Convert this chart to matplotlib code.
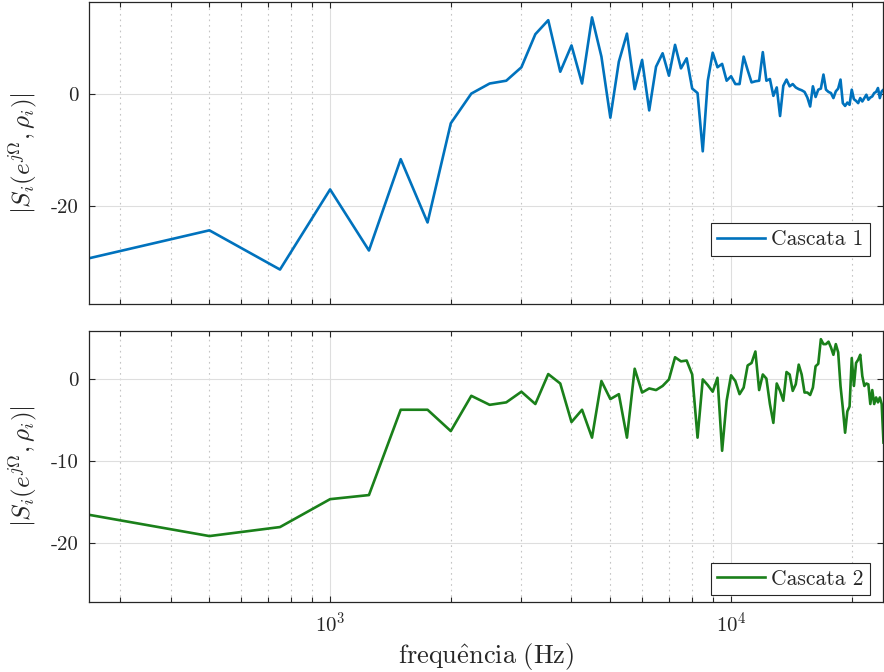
import numpy as np
import matplotlib
matplotlib.use("Agg")
import matplotlib.pyplot as plt
from matplotlib.ticker import FixedLocator, FuncFormatter, LogLocator

plt.rcParams.update({
    "font.family": "serif",
    "font.serif": ["cmr10", "DejaVu Serif"],
    "mathtext.fontset": "cm",
    "axes.unicode_minus": False,
    "axes.formatter.use_mathtext": True,
})

# Frequency bins (Hz): 250 Hz steps up to Nyquist of 48 kHz sampling
freq_hz = [250 * k for k in range(1, 97)]

# Sensitivity magnitude of each cascade
cascata_1 = [
    -29.3, -24.3, -31.3, -17.0, -27.9, -11.6, -22.9, -5.2, 0.1, 1.9,
    2.4, 4.8, 10.7, 13.2, 4.0, 8.7, 1.9, 13.7, 6.7, -4.2,
    5.8, 10.8, 0.9, 6.1, -2.9, 4.9, 7.3, 3.3, 8.8, 4.6,
    6.4, 1.0, 0.2, -10.2, 2.4, 7.4, 4.8, 5.4, 2.4, 3.2,
    1.8, 1.8, 6.7, 4.3, 2.1, 2.3, 2.4, 7.5, 2.4, 2.7,
    -0.3, 1.2, -3.9, 1.5, 2.6, 1.4, 1.8, 1.2, 0.9, 0.7,
    0.4, -0.6, -2.2, 1.4, -0.5, 0.8, 1.0, 3.5, 0.8, 0.4,
    0.2, -0.7, 0.5, 1.0, 2.6, -1.6, -2.1, -1.5, -1.9, 0.8,
    -0.9, -1.2, -1.6, -0.7, -1.3, -0.7, -0.1, -1.0, -0.6, -0.4,
    0.2, 0.4, 1.1, -0.7, 0.5, 0.8,
]

cascata_2 = [
    -16.5, -19.1, -18.0, -14.6, -14.1, -3.7, -3.7, -6.3, -2.0, -3.1,
    -2.8, -1.5, -3.0, 0.65, -0.5, -5.2, -3.7, -7.1, -0.2, -2.4,
    -1.8, -7.1, 1.3, -1.6, -1.1, -1.3, -0.8, 0.0, 2.7, 2.2,
    2.3, 0.6, -7.1, 0.0, -0.7, -1.5, 0.2, -8.7, -2.6, 0.5,
    -0.2, -1.8, -1.0, 1.7, 2.0, 3.4, -1.3, 0.6, 0.1, -3.0,
    -5.3, -0.5, -1.4, -2.6, 0.9, 0.6, -1.4, -0.6, 1.8, 0.6,
    -1.6, -1.6, -1.9, -1.0, 1.6, 1.9, 4.9, 4.3, 4.3, 4.6,
    3.9, 3.0, 4.3, 3.3, -0.8, -3.5, -6.5, -3.9, -3.3, 2.6,
    -0.8, 2.0, 2.4, 3.0, 0.4, -0.8, -0.5, -0.6, -3.0, -1.3,
    -3.0, -2.2, -2.8, -2.2, -3.0, -7.7,
]

y_ticks_top = [-20, 0]
y_ticks_bottom = [-20, -10, 0]

W, H = 884, 672
fig = plt.figure(figsize=(W / 100, H / 100), dpi=100)

def px_axes(left, top, right, bottom):
    return fig.add_axes([left / W, 1 - bottom / H, (right - left) / W, (bottom - top) / H])

ax1 = px_axes(88.7, 1.7, 883.5, 304.3)
ax2 = px_axes(88.7, 331.0, 883.5, 601.7)

ink = "#262626"
label = r"$|S_i(e^{j\Omega},\rho_i)|$"

def style(ax, yticks, ylim, line_color, series, name, legend_bottom):
    ax.semilogx(freq_hz, series, color=line_color, lw=1.9, label=name)
    ax.set_xlim(250, 24000)
    ax.set_ylim(*ylim)
    ax.yaxis.set_major_locator(FixedLocator(yticks))
    ax.yaxis.set_major_formatter(FuncFormatter(lambda v, p: f"{v:g}"))
    ax.xaxis.set_minor_locator(LogLocator(base=10, subs=np.arange(2, 10), numticks=20))
    ax.grid(True, which="major", color="#dedede", lw=0.8, ls="-")
    ax.grid(True, which="minor", axis="x", color="#c4c4c4", lw=0.8, ls=(0, (1.5, 3.5)))
    ax.set_axisbelow(True)
    ax.tick_params(which="both", direction="in", top=True, right=True,
                   color=ink, labelcolor=ink, labelsize=15, pad=7)
    ax.tick_params(which="major", length=4.5, width=0.8)
    ax.tick_params(which="minor", length=3.5, width=0.8)
    for s in ax.spines.values():
        s.set_color(ink)
        s.set_linewidth(0.9)
    ax.set_ylabel(label, fontsize=18, color=ink)
    ax.yaxis.set_label_coords(-0.063, 0.5)
    leg = ax.legend(loc="lower right", bbox_to_anchor=(0.983, legend_bottom),
                    borderaxespad=0, fancybox=False, framealpha=1,
                    edgecolor=ink, fontsize=15.5, handlelength=2.2,
                    handletextpad=0.3, borderpad=0.3)
    leg.get_frame().set_linewidth(0.8)
    for t in leg.get_texts():
        t.set_color(ink)

style(ax1, y_ticks_top, (-37.5, 16.5), "#0072BD", cascata_1, "Cascata 1", 0.16)
style(ax2, y_ticks_bottom, (-27.1, 5.9), "#1A801A", cascata_2, "Cascata 2", 0.024)

ax1.tick_params(axis="x", which="both", labelbottom=False)
ax2.set_xlabel(r"$\mathrm{frequ\hat{e}ncia\ (Hz)}$", fontsize=19, color=ink, labelpad=4)

fig.savefig("out.png", dpi=100)
